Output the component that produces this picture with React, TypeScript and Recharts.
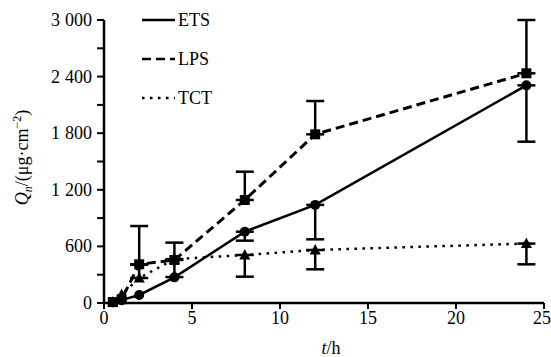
import React from 'react';
import { LineChart, Line, XAxis, YAxis, ErrorBar, Legend } from 'recharts';

const times = [0.5, 1, 2, 4, 8, 12, 24];
const etsValues = [5, 30, 85, 272, 756, 1040, 2307];
const etsErrLow = [0, 0, 0, 0, 95, 365, 597];
const etsErrHigh = [0, 0, 0, 0, 0, 0, 0];
const lpsValues = [10, 40, 410, 456, 1092, 1788, 2435];
const lpsErrLow = [0, 0, 0, 0, 0, 0, 0];
const lpsErrHigh = [0, 0, 406, 184, 300, 353, 565];
const tctValues = [10, 90, 265, 465, 509, 562, 630];
const tctErrLow = [0, 0, 0, 190, 230, 205, 220];
const tctErrHigh = [0, 0, 140, 0, 0, 0, 0];

const seriesNames = ['ETS', 'LPS', 'TCT'];
const xTicks = [0, 5, 10, 15, 20, 25];
const yTicks = [0, 300, 600, 900, 1200, 1500, 1800, 2100, 2400, 2700, 3000];
const yLabelTicks = [0, 600, 1200, 1800, 2400, 3000];

const FONT = '"Liberation Serif", "Times New Roman", serif';

const err = (lo: number, hi: number) => (lo === 0 && hi === 0 ? null : [lo, hi]);

const data = times.map((t, i) => ({
  t,
  ETS: etsValues[i],
  ETSerr: err(etsErrLow[i], etsErrHigh[i]),
  LPS: lpsValues[i],
  LPSerr: err(lpsErrLow[i], lpsErrHigh[i]),
  TCT: tctValues[i],
  TCTerr: err(tctErrLow[i], tctErrHigh[i]),
}));

const YTick = (props: any) => {
  const { x, y, payload } = props;
  const v = payload.value as number;
  if (!yLabelTicks.includes(v)) return <g />;
  const common = { textAnchor: 'end' as const, fontFamily: FONT, fontSize: 18, fill: '#000' };
  if (v >= 1000) {
    const th = String(Math.floor(v / 1000));
    const rest = String(v % 1000).padStart(3, '0');
    return (
      <g>
        <text x={x - 3} y={y} dy={6} {...common}>{rest}</text>
        <text x={x - 3 - 32} y={y} dy={6} {...common}>{th}</text>
      </g>
    );
  }
  return (
    <text x={x - 3} y={y} dy={6} {...common}>{String(v)}</text>
  );
};

const CircleDot = (props: any) => {
  const { cx, cy, key } = props;
  if (cx == null || cy == null) return <g key={key} />;
  return <circle key={key} cx={cx} cy={cy} r={5} fill="#000" />;
};
const SquareDot = (props: any) => {
  const { cx, cy, key } = props;
  if (cx == null || cy == null) return <g key={key} />;
  return <rect key={key} x={cx - 5} y={cy - 5} width={10} height={10} fill="#000" />;
};
const TriDot = (props: any) => {
  const { cx, cy, key } = props;
  if (cx == null || cy == null) return <g key={key} />;
  return <polygon key={key} points={`${cx},${cy - 6} ${cx - 5.5},${cy + 4.5} ${cx + 5.5},${cy + 4.5}`} fill="#000" />;
};

const dashes = ['', '9 5', '2.5 5.5'];

const LegendBox = () => (
  <svg width={130} height={115} style={{ display: 'block' }}>
    {seriesNames.map((n, i) => {
      const y = 16 + i * 39;
      return (
        <g key={n}>
          <line x1={4} x2={37} y1={y} y2={y} stroke="#000" strokeWidth={2.5} strokeDasharray={dashes[i] || undefined} />
          <text x={40} y={y + 6} fontFamily={FONT} fontSize={18} fill="#000">{n}</text>
        </g>
      );
    })}
  </svg>
);

const YLabel = (props: any) => {
  const vb = props.viewBox || { x: 0, y: 20, width: 104, height: 283 };
  const cx = 28;
  const cy = vb.y + vb.height / 2 - 4;
  return (
    <text x={cx} y={cy} transform={`rotate(-90 ${cx} ${cy})`} textAnchor="middle" fontFamily={FONT} fontSize={18} fill="#000">
      <tspan fontStyle="italic">Q</tspan>
      <tspan fontStyle="italic" fontSize={12} dy={4}>n</tspan>
      <tspan dy={-4}>/(μg·cm</tspan>
      <tspan fontSize={12} dy={-7}>−2</tspan>
      <tspan dy={7}>)</tspan>
    </text>
  );
};

const XLabel = (props: any) => {
  const vb = props.viewBox || { x: 104, y: 303, width: 440, height: 54 };
  const cx = vb.x + vb.width / 2 + 7;
  return (
    <text x={cx} y={vb.y + 51} textAnchor="middle" fontFamily={FONT} fontSize={18} fill="#000">
      <tspan fontStyle="italic">t</tspan>
      <tspan>/h</tspan>
    </text>
  );
};

export default function App() {
  return (
    <div style={{ position: 'absolute', left: 0, top: 0, background: '#fff' }}>
      <LineChart width={551} height={357} data={data} margin={{ top: 20, right: 7, left: 0, bottom: 0 }}>
        <XAxis
          dataKey="t"
          type="number"
          domain={[0, 25]}
          ticks={xTicks}
          height={54}
          axisLine={{ stroke: '#000', strokeWidth: 2.5 }}
          tickLine={{ stroke: '#000', strokeWidth: 2 }}
          tickSize={6}
          tick={{ fill: '#000', fontSize: 18, fontFamily: FONT }}
          label={<XLabel />}
        />
        <YAxis
          type="number"
          domain={[0, 3000]}
          ticks={yTicks}
          width={104}
          interval={0}
          axisLine={{ stroke: '#000', strokeWidth: 2.5 }}
          tickLine={{ stroke: '#000', strokeWidth: 2 }}
          tickSize={7}
          tick={<YTick />}
          label={<YLabel />}
        />
        <Legend
          layout="vertical"
          align="center"
          verticalAlign="middle"
          wrapperStyle={{ position: 'absolute', left: 138, top: 4, width: 130, height: 115 }}
          content={() => <LegendBox />}
        />
        <Line dataKey="ETS" stroke="#000" strokeWidth={2.5} dot={CircleDot} activeDot={false} isAnimationActive={false}>
          <ErrorBar dataKey="ETSerr" direction="y" width={9} stroke="#000" strokeWidth={2.5} />
        </Line>
        <Line dataKey="LPS" stroke="#000" strokeWidth={3} strokeDasharray="9 5" dot={SquareDot} activeDot={false} isAnimationActive={false}>
          <ErrorBar dataKey="LPSerr" direction="y" width={9} stroke="#000" strokeWidth={2.5} />
        </Line>
        <Line dataKey="TCT" stroke="#000" strokeWidth={2.5} strokeDasharray="2.5 5.5" dot={TriDot} activeDot={false} isAnimationActive={false}>
          <ErrorBar dataKey="TCTerr" direction="y" width={9} stroke="#000" strokeWidth={2.5} />
        </Line>
      </LineChart>
    </div>
  );
}
